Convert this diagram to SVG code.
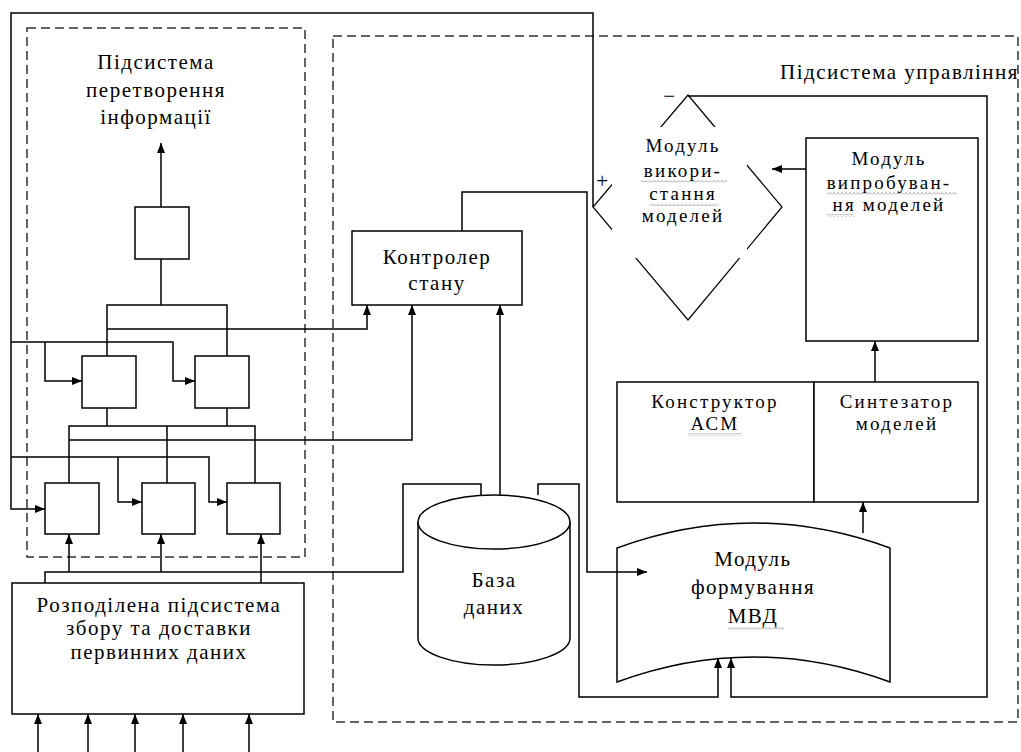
<svg xmlns="http://www.w3.org/2000/svg" width="1021" height="752" viewBox="0 0 1021 752">
<style>
.ln{fill:none;stroke:#000;stroke-width:1.5}
.bx{fill:#fff;stroke:#000;stroke-width:1.5}
.dash{fill:none;stroke:#333;stroke-width:1.5;stroke-dasharray:9 5}
text{font-family:'Liberation Serif','DejaVu Serif','Times New Roman',serif;font-size:21px;letter-spacing:1.5px;fill:#000;text-anchor:middle}
text.sm{font-size:19px;letter-spacing:2.2px}
</style>
<defs>
<marker id="arr" markerUnits="userSpaceOnUse" markerWidth="11" markerHeight="9" refX="10" refY="4" orient="auto">
<path d="M0,0 L10,4 L0,8 z" fill="#000"/>
</marker>
<pattern id="wavy" patternUnits="userSpaceOnUse" width="4" height="3">
<path d="M0,2.5 L2,0.5 L4,2.5" fill="none" stroke="#888" stroke-width="0.8"/>
</pattern>
</defs>
<rect width="1021" height="752" fill="#fff"/>

<g id="left-subsystem">
<rect class="dash" x="27" y="28" width="278" height="529"/>
<text x="156" y="69">Підсистема</text>
<text x="156" y="97">перетворення</text>
<text x="156" y="124">інформації</text>
</g>
<g id="right-subsystem">
<rect class="dash" x="333" y="36" width="685" height="686"/>
<text x="1019" y="79" style="text-anchor:end">Підсистема управління</text>
</g>

<g id="box-top"><rect class="bx" x="135" y="207" width="54" height="52"/></g>
<g id="box-a"><rect class="bx" x="82" y="356" width="54" height="52"/></g>
<g id="box-b"><rect class="bx" x="195" y="356" width="54" height="52"/></g>
<g id="box-1"><rect class="bx" x="45" y="483" width="54" height="51"/></g>
<g id="box-2"><rect class="bx" x="142" y="483" width="53" height="51"/></g>
<g id="box-3"><rect class="bx" x="227" y="483" width="53" height="51"/></g>

<g id="rozpodilena">
<rect class="bx" x="12" y="583" width="292" height="131"/>
<text x="159" y="612">Розподілена підсистема</text>
<text x="159" y="635">збору та доставки</text>
<text x="159" y="659">первинних даних</text>
</g>

<g id="kontroler">
<rect class="bx" x="352" y="231" width="170" height="74"/>
<text x="437" y="264">Контролер</text>
<text x="437" y="290">стану</text>
</g>

<g id="baza">
<path class="bx" d="M418,522 V638 A76,27 0 0 0 570,638 V522"/>
<ellipse class="bx" cx="494" cy="522" rx="76" ry="27"/>
<text x="494" y="587">База</text>
<text x="494" y="614">даних</text>
</g>

<g id="formuvannya">
<path class="bx" d="M617,548 Q753,498 890,548 V682 Q753,632 617,682 Z"/>
<text x="753" y="566">Модуль</text>
<text x="753" y="594">формування</text>
<text x="753" y="623">МВД</text>
</g>

<g id="konstruktor">
<rect class="bx" x="617" y="382" width="197" height="120"/>
<text class="sm" x="715" y="408">Конструктор</text>
<text class="sm" x="715" y="430">АСМ</text>
</g>
<g id="syntezator">
<rect class="bx" x="814" y="382" width="164" height="120"/>
<text class="sm" x="897" y="408">Синтезатор</text>
<text class="sm" x="897" y="430">моделей</text>
</g>

<g id="vyprobuvannya">
<rect class="bx" x="806" y="138" width="172" height="203"/>
<text class="sm" x="889" y="165">Модуль</text>
<text class="sm" x="889" y="189">випробуван-</text>
<text class="sm" x="889" y="211">ня моделей</text>
</g>

<g id="vykorystannya">
<polygon points="688,95 782,207 688,320 593,207" fill="none" stroke="#000" stroke-width="1.2"/>
<rect x="612" y="127" width="135" height="131" fill="#fff"/>
<text class="sm" x="683" y="152">Модуль</text>
<text class="sm" x="683" y="177">викори-</text>
<text class="sm" x="683" y="200">стання</text>
<text class="sm" x="683" y="222">моделей</text>
<text x="670" y="103">−</text>
<text x="603" y="188">+</text>
</g>

<g id="spellcheck">
<rect x="641" y="180" width="86" height="3" fill="url(#wavy)"/>
<rect x="650" y="203" width="68" height="3" fill="url(#wavy)"/>
<rect x="827" y="192" width="130" height="3" fill="url(#wavy)"/>
<rect x="827" y="214" width="27" height="3" fill="url(#wavy)"/>
<rect x="688" y="433" width="54" height="3" fill="url(#wavy)"/>
<rect x="728" y="627" width="56" height="3" fill="url(#wavy)"/>
</g>

<g id="connectors">
<path class="ln" d="M161,207 V143" marker-end="url(#arr)"/>
<path class="ln" d="M161,259 V305 M107,356 V305 H227 V356"/>
<path class="ln" d="M107,408 V426 M227,408 V426 M69,483 V426 H255 V483 M167,426 V483"/>
<path class="ln" d="M107,329 H367 V305" marker-end="url(#arr)"/>
<path class="ln" d="M69,440 H412 V305" marker-end="url(#arr)"/>
<path class="ln" d="M593,207 V13 H11 V509 H45" marker-end="url(#arr)"/>
<path class="ln" d="M11,342 H173 V381 H195" marker-end="url(#arr)"/>
<path class="ln" d="M45,342 V381 H82" marker-end="url(#arr)"/>
<path class="ln" d="M11,457 H209 V502 H227" marker-end="url(#arr)"/>
<path class="ln" d="M118,457 V502 H142" marker-end="url(#arr)"/>
<path class="ln" d="M45,583 V572 H403 V484 H481 V495"/>
<path class="ln" d="M69,572 V534" marker-end="url(#arr)"/>
<path class="ln" d="M161,572 V534" marker-end="url(#arr)"/>
<path class="ln" d="M261,583 V534" marker-end="url(#arr)"/>
<path class="ln" d="M38,752 V714" marker-end="url(#arr)"/>
<path class="ln" d="M88,752 V714" marker-end="url(#arr)"/>
<path class="ln" d="M135,752 V714" marker-end="url(#arr)"/>
<path class="ln" d="M183,752 V714" marker-end="url(#arr)"/>
<path class="ln" d="M249,752 V714" marker-end="url(#arr)"/>
<path class="ln" d="M500,495 V305" marker-end="url(#arr)"/>
<path class="ln" d="M538,495 V484 H579 V697 H718 V658" marker-end="url(#arr)"/>
<path class="ln" d="M462,231 V192 H587 V572 H647" marker-end="url(#arr)"/>
<path class="ln" d="M863,533 V502" marker-end="url(#arr)"/>
<path class="ln" d="M875,382 V341" marker-end="url(#arr)"/>
<path class="ln" d="M806,169 H772" marker-end="url(#arr)"/>
<path class="ln" d="M688,96 H987 V697 H731 V658" marker-end="url(#arr)"/>
</g>
</svg>
